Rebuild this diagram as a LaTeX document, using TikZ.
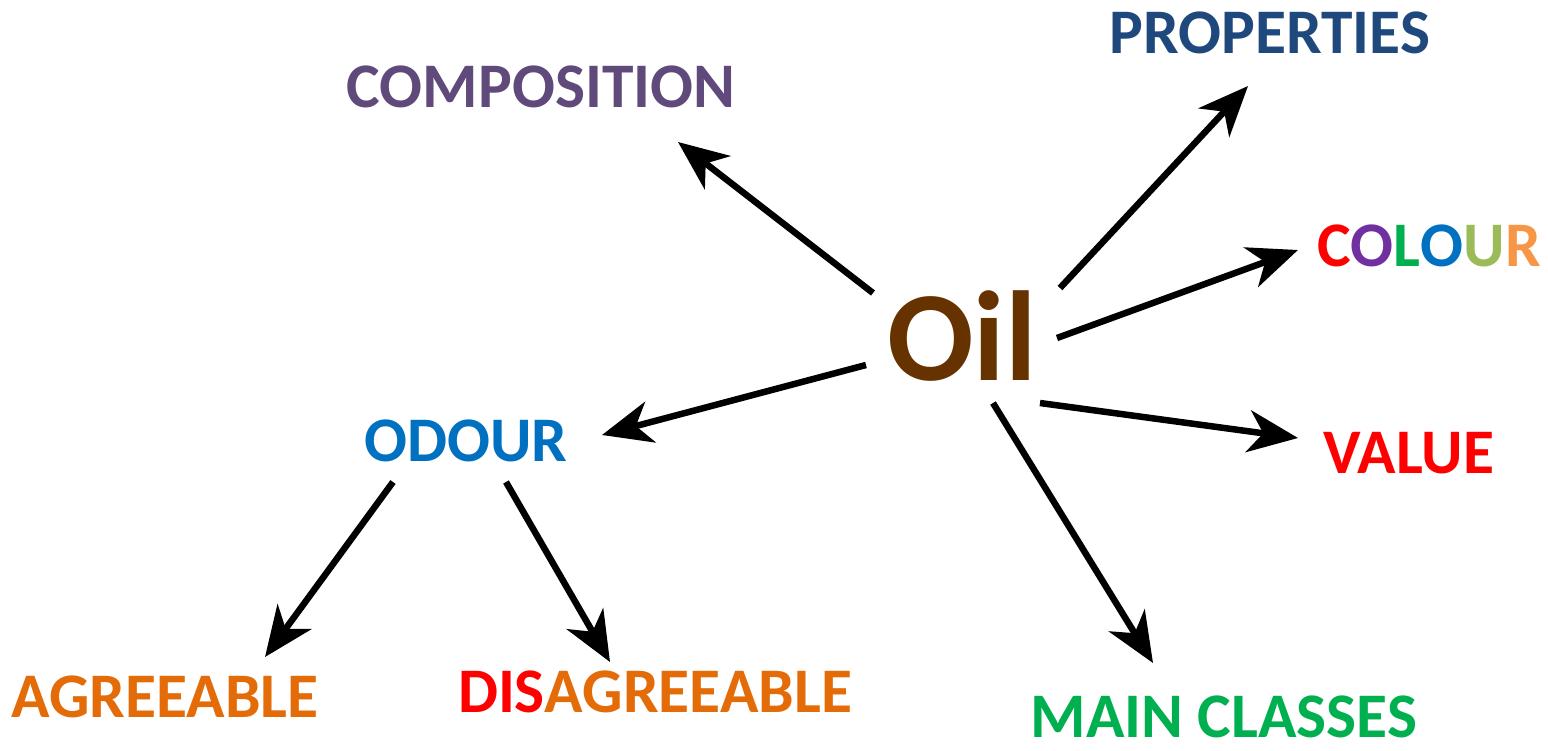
\documentclass[tikz,border=0pt]{standalone}
\usepackage{fontspec}
\setmainfont{Carlito}
\usetikzlibrary{arrows.meta}
\definecolor{cPurple}{RGB}{96,73,123}
\definecolor{cNavy}{RGB}{31,73,125}
\definecolor{cRed}{RGB}{255,0,0}
\definecolor{cViolet}{RGB}{112,48,160}
\definecolor{cGreen}{RGB}{0,176,80}
\definecolor{cBlue}{RGB}{0,112,192}
\definecolor{cOlive}{RGB}{155,187,89}
\definecolor{cLOrange}{RGB}{247,150,70}
\definecolor{cOrange}{RGB}{227,108,9}
\definecolor{cBrown}{RGB}{102,51,0}
\begin{document}
\begin{tikzpicture}[x=1pt,y=-1pt,
  lbl/.style={inner sep=0pt, font=\fontsize{63.5}{64}\selectfont\bfseries},
  conn/.style={line width=6.5pt, -{Stealth[length=50pt,width=42pt,inset=15pt]}}]
\useasboundingbox (0,0) rectangle (1548,750);
\node[lbl, text=cBrown, font=\fontsize{128}{128}\selectfont\bfseries] (oil) at (962,336) {Oil};
\node[lbl, text=cPurple] (comp) at (541,87) {COMPOSITION};
\node[lbl, text=cNavy] (prop) at (1270,33) {PROPERTIES};
\node[lbl] (colour) at (1429,246) {\textcolor{cRed}{C}\textcolor{cViolet}{O}\textcolor{cGreen}{L}\textcolor{cBlue}{O}\textcolor{cOlive}{U}\textcolor{cLOrange}{R}};
\node[lbl, text=cRed] (value) at (1409,453) {VALUE};
\node[lbl, text=cGreen] (main) at (1224,717) {MAIN CLASSES};
\node[lbl, text=cBlue] (odour) at (466,441) {ODOUR};
\node[lbl, text=cOrange] (agree) at (165,697) {AGREEABLE};
\node[lbl, text=cOrange] (disagree) at (655,692) {\textcolor{cRed}{DIS}AGREEABLE};
% connector end points
\coordinate (o1) at ([shift={(-89,-43)}]oil.center);
\coordinate (t1) at ([shift={(137,55)}]comp.center);
\coordinate (o2) at ([shift={(98,-48)}]oil.center);
\coordinate (t2) at ([shift={(-22,53)}]prop.center);
\coordinate (o3) at ([shift={(95,2)}]oil.center);
\coordinate (t3) at ([shift={(-131,4)}]colour.center);
\coordinate (o4) at ([shift={(78,67)}]oil.center);
\coordinate (t4) at ([shift={(-111,-15)}]value.center);
\coordinate (o5) at ([shift={(31,67)}]oil.center);
\coordinate (t5) at ([shift={(-71,-54)}]main.center);
\coordinate (o6) at ([shift={(-96,29)}]oil.center);
\coordinate (t6) at ([shift={(136,-6)}]odour.center);
\coordinate (s7) at ([shift={(-73,41)}]odour.center);
\coordinate (t7) at ([shift={(100,-40)}]agree.center);
\coordinate (s8) at ([shift={(40,41)}]odour.center);
\coordinate (t8) at ([shift={(-45,-30)}]disagree.center);
\draw[conn] (o1) -- (t1);
\draw[conn] (o2) -- (t2);
\draw[conn] (o3) -- (t3);
\draw[conn] (o4) -- (t4);
\draw[conn] (o5) -- (t5);
\draw[conn] (o6) -- (t6);
\draw[conn] (s7) -- (t7);
\draw[conn] (s8) -- (t8);
\end{tikzpicture}
\end{document}
